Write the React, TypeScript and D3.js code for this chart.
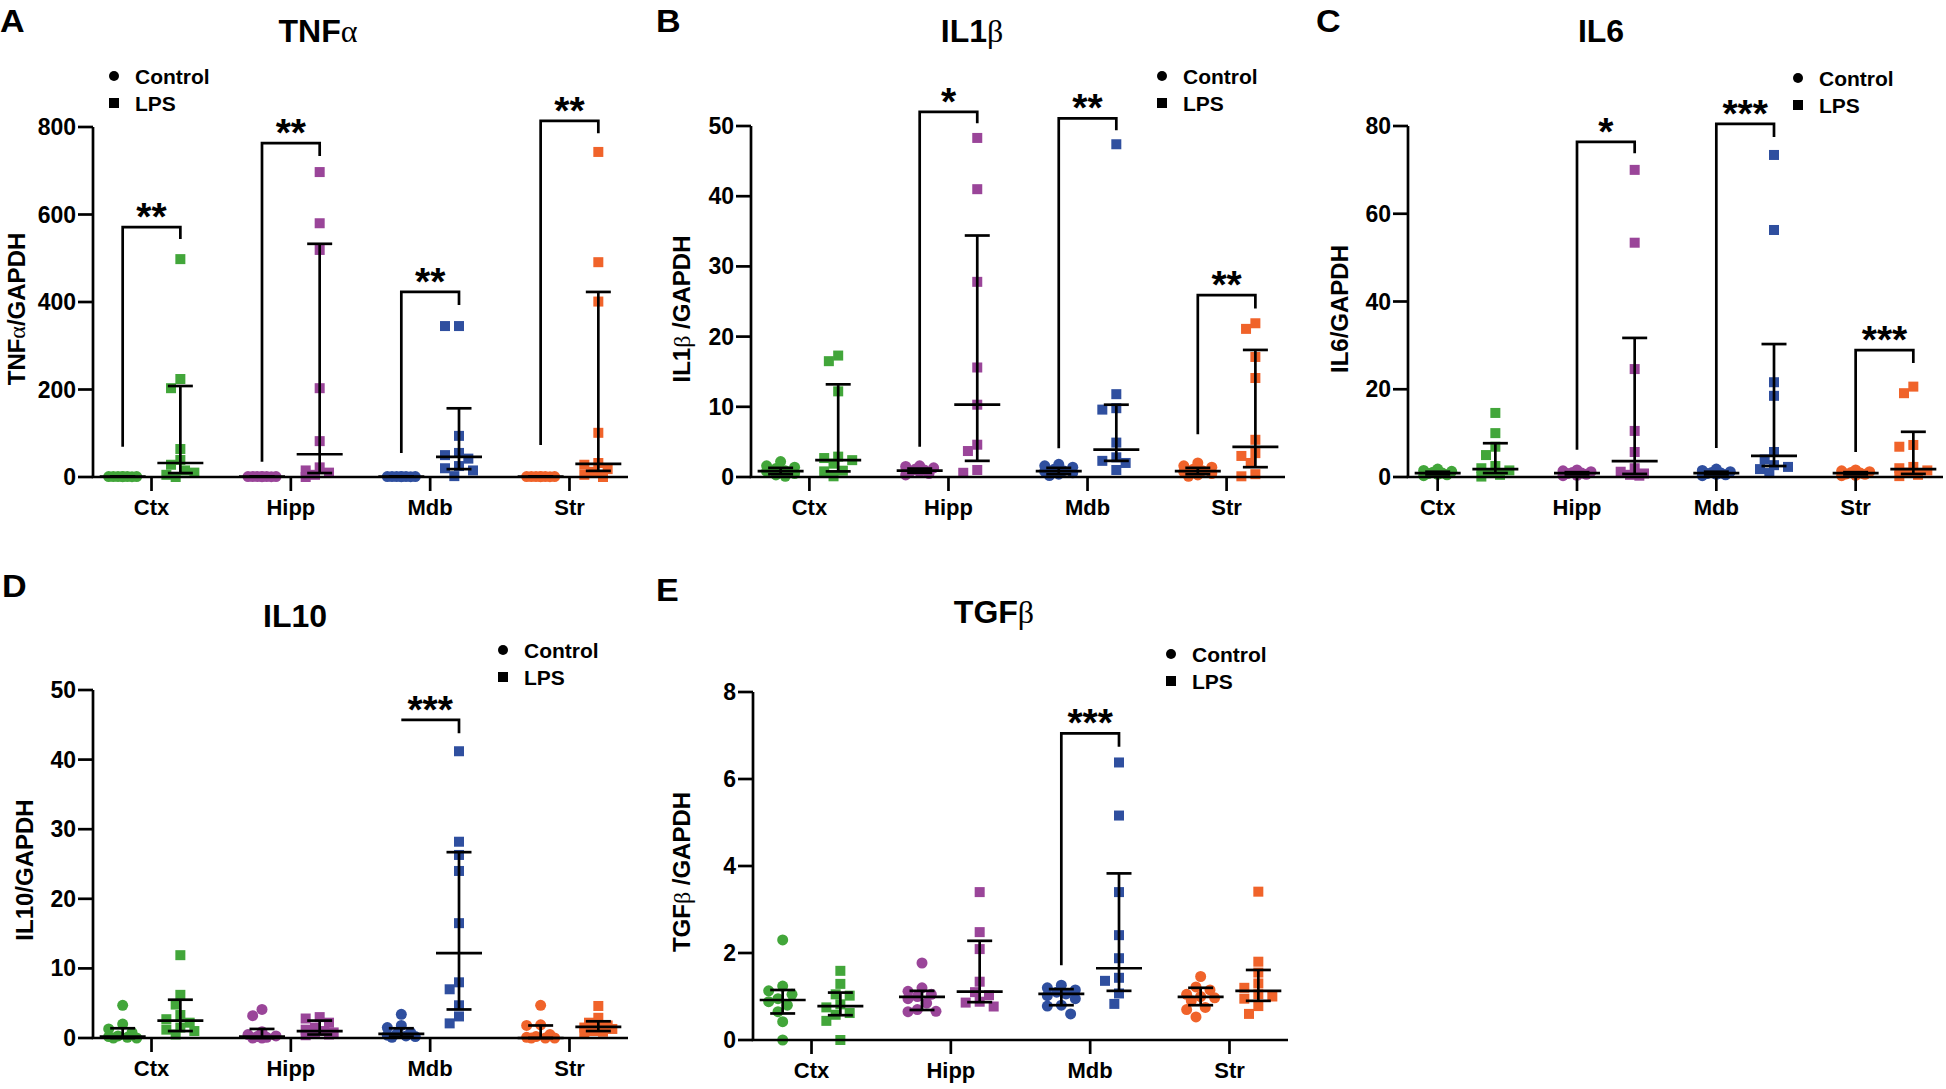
import React from 'react';
import * as d3 from 'd3';

const SANS = '"Liberation Sans", Arial, Helvetica, sans-serif';
const SERIF = '"Liberation Serif", "Times New Roman", serif';

const categories = ['Ctx', 'Hipp', 'Mdb', 'Str'];
const groups = ['Control', 'LPS'];
const regionColors = ['#42a63a', '#9a4599', '#2f4f9f', '#f0632a'];

// TNFα / GAPDH  (stats = [median, lower, upper])
const tnfControl = [
  [1.2, 0.9, 1.0, 0.8, 1.1, 0.7, 1.0, 0.9],
  [1.1, 0.9, 1.0, 0.8, 1.2, 0.7, 1.0, 0.9],
  [1.0, 0.9, 1.1, 0.8, 1.2, 0.7, 1.0, 0.9],
  [1.1, 0.8, 1.0, 0.9, 1.2, 0.7, 1.0, 0.9],
];
const tnfControlStats = [[1, 0.8, 1.1], [1, 0.8, 1.1], [1, 0.8, 1.1], [1, 0.8, 1.1]];
const tnfLps = [
  [498, 224, 203, 64, 39, 28, 15, 10, 5, 0],
  [697, 580, 519, 203, 82, 22, 15, 10, 5, 0],
  [345, 345, 94, 55, 50, 42, 25, 20, 15, 2],
  [743, 491, 401, 101, 32, 28, 18, 12, 5, 0],
];
const tnfLpsStats = [[32, 9, 208], [52, 9, 533], [46, 18, 157], [30, 14, 423]];
const tnfBrackets = [
  { cat: 'Ctx', label: '**', top: 571, left: 69, right: 544 },
  { cat: 'Hipp', label: '**', top: 763, left: 35, right: 734 },
  { cat: 'Mdb', label: '**', top: 423, left: 55, right: 393 },
  { cat: 'Str', label: '**', top: 814, left: 73, right: 786 },
];

// IL1β / GAPDH
const il1Control = [
  [2.2, 1.6, 1.4, 1.2, 0.9, 0.8, 0.5, 0.3, 0.1],
  [1.6, 1.5, 1.3, 1.1, 1.0, 0.8, 0.7, 0.5, 0.3],
  [1.8, 1.6, 1.4, 1.1, 0.9, 0.8, 0.6, 0.4, 0.2],
  [2.0, 1.6, 1.4, 1.1, 0.9, 0.7, 0.5, 0.3, 0.1],
];
const il1ControlStats = [[0.85, 0.4, 1.3], [0.9, 0.6, 1.2], [0.85, 0.4, 1.3], [0.85, 0.4, 1.3]];
const il1Lps = [
  [17.3, 16.5, 12.2, 2.9, 2.7, 2.4, 1.9, 0.9, 0.8, 0.1],
  [48.3, 41.0, 27.8, 15.6, 10.3, 4.6, 3.7, 1.0, 0.6],
  [47.4, 11.8, 9.8, 9.6, 4.9, 2.8, 2.3, 2.0, 1.0],
  [21.9, 21.1, 17.1, 14.1, 5.3, 3.4, 3.0, 2.0, 0.4, 0.1],
];
const il1LpsStats = [[2.4, 0.8, 13.2], [10.3, 2.3, 34.4], [3.9, 2.3, 10.3], [4.3, 1.4, 18.1]];
const il1Brackets = [
  { cat: 'Hipp', label: '*', top: 52.0, left: 4.3, right: 50.4 },
  { cat: 'Mdb', label: '**', top: 51.1, left: 4.1, right: 49.4 },
  { cat: 'Str', label: '**', top: 25.9, left: 6.1, right: 24.0 },
];

// IL6 / GAPDH
const il6Control = [
  [1.8, 1.5, 1.3, 1.1, 0.9, 0.8, 0.6, 0.5, 0.3],
  [1.6, 1.4, 1.2, 1.0, 0.9, 0.8, 0.6, 0.4, 0.3],
  [1.8, 1.5, 1.2, 1.0, 0.9, 0.8, 0.6, 0.5, 0.3],
  [1.6, 1.4, 1.2, 1.0, 0.9, 0.7, 0.6, 0.4, 0.3],
];
const il6ControlStats = [[0.9, 0.6, 1.2], [0.9, 0.6, 1.1], [0.9, 0.6, 1.2], [0.9, 0.6, 1.1]];
const il6Lps = [
  [14.6, 10.0, 6.9, 5.0, 2.5, 2.0, 1.5, 0.9, 0.5, 0.1],
  [70.0, 53.4, 24.6, 10.5, 5.7, 2.0, 1.2, 0.8, 0.5, 0.3],
  [73.4, 56.3, 21.6, 18.5, 5.7, 4.0, 2.7, 2.3, 1.8, 0.9],
  [20.6, 19.1, 7.3, 6.9, 2.3, 2.0, 1.5, 1.0, 0.5, 0.2],
];
const il6LpsStats = [[1.8, 0.9, 7.7], [3.6, 0.7, 31.7], [4.8, 2.5, 30.3], [1.8, 0.7, 10.3]];
const il6Brackets = [
  { cat: 'Hipp', label: '*', top: 76.4, left: 6.2, right: 73.8 },
  { cat: 'Mdb', label: '***', top: 80.5, left: 6.6, right: 77.5 },
  { cat: 'Str', label: '***', top: 28.9, left: 5.7, right: 26.0 },
];

// IL10 / GAPDH
const il10Control = [
  [4.7, 2.0, 1.3, 0.8, 0.3, 0.2, 0.1, 0, 0],
  [4.1, 3.2, 0.9, 0.5, 0.3, 0.2, 0.1, 0, 0],
  [3.4, 1.8, 1.5, 0.8, 0.6, 0.4, 0.3, 0.2, 0.1],
  [4.7, 1.9, 1.8, 0.5, 0.2, 0.1, 0, 0, 0],
];
const il10ControlStats = [[0.2, 0, 1.4], [0.2, 0, 1.3], [0.6, 0.2, 1.4], [0, 0, 1.8]];
const il10Lps = [
  [11.9, 6.2, 4.8, 3.3, 2.7, 2.2, 1.5, 1.2, 1.0, 0.5],
  [3.0, 2.8, 2.2, 1.5, 1.2, 1.0, 0.8, 0.6, 0.5, 0.4],
  [41.2, 28.2, 26.3, 24.0, 16.5, 8.0, 7.0, 4.7, 3.1, 2.1],
  [4.6, 2.9, 2.2, 1.8, 1.6, 1.5, 1.3, 1.0, 0.9, 0.7],
];
const il10LpsStats = [[2.5, 1.0, 5.5], [1.0, 0.5, 2.5], [12.2, 4.1, 26.7], [1.6, 1.0, 2.4]];
const il10Brackets = [
  { cat: 'Mdb', label: '***', top: 45.7, left: null, right: 43.8 },
];

// TGFβ / GAPDH
const tgfControl = [
  [2.30, 1.24, 1.13, 1.05, 0.95, 0.88, 0.80, 0.65, 0.42, 0.0],
  [1.77, 1.20, 1.12, 1.05, 1.0, 0.95, 0.85, 0.70, 0.66, 0.65],
  [1.26, 1.20, 1.15, 1.10, 1.06, 1.02, 0.95, 0.80, 0.78, 0.60],
  [1.46, 1.22, 1.15, 1.05, 1.0, 0.97, 0.90, 0.75, 0.70, 0.53],
];
const tgfControlStats = [[0.92, 0.61, 1.15], [0.99, 0.69, 1.13], [1.06, 0.80, 1.17], [0.99, 0.80, 1.20]];
const tgfLps = [
  [1.59, 1.29, 1.05, 1.02, 0.82, 0.75, 0.62, 0.58, 0.44, 0.0],
  [3.40, 2.48, 2.09, 1.34, 1.10, 1.03, 0.88, 0.86, 0.77],
  [6.38, 5.16, 3.40, 2.41, 1.88, 1.43, 1.36, 1.07, 0.83],
  [3.41, 1.80, 1.55, 1.30, 1.20, 1.05, 1.00, 0.95, 0.78, 0.60],
];
const tgfLpsStats = [[0.78, 0.57, 1.09], [1.11, 0.87, 2.28], [1.65, 1.13, 3.83], [1.13, 0.90, 1.61]];
const tgfBrackets = [
  { cat: 'Mdb', label: '***', top: 7.05, left: 1.72, right: 6.74 },
];

type Piece = [string, boolean]; // text, greek?

const panels = [
  {
    letter: 'A', letterX: 0, letterY: 32,
    title: [['TNF', false], ['α', true]] as Piece[], titleX: 318, titleY: 42,
    yLabel: [['TNF', false], ['α', true], ['/GAPDH', false]] as Piece[], yLabelX: 25, yLabelY: 309,
    axisX: 93, axisTop: 127, axisBottom: 477, axisLen: 535, max: 800,
    legendX: 114, legendY: 76, tickAtControl: false,
    control: tnfControl, controlStats: tnfControlStats, lps: tnfLps, lpsStats: tnfLpsStats, brackets: tnfBrackets,
  },
  {
    letter: 'B', letterX: 656, letterY: 32,
    title: [['IL1', false], ['β', true]] as Piece[], titleX: 972, titleY: 42,
    yLabel: [['IL1', false], ['β', true], [' /GAPDH', false]] as Piece[], yLabelX: 690, yLabelY: 309,
    axisX: 751, axisTop: 126, axisBottom: 477, axisLen: 534, max: 50,
    legendX: 1162, legendY: 76, tickAtControl: false,
    control: il1Control, controlStats: il1ControlStats, lps: il1Lps, lpsStats: il1LpsStats, brackets: il1Brackets,
  },
  {
    letter: 'C', letterX: 1316, letterY: 32,
    title: [['IL6', false]] as Piece[], titleX: 1601, titleY: 42,
    yLabel: [['IL6/GAPDH', false]] as Piece[], yLabelX: 1348, yLabelY: 309,
    axisX: 1408, axisTop: 126, axisBottom: 477, axisLen: 535, max: 80,
    legendX: 1798, legendY: 78, tickAtControl: true,
    control: il6Control, controlStats: il6ControlStats, lps: il6Lps, lpsStats: il6LpsStats, brackets: il6Brackets,
  },
  {
    letter: 'D', letterX: 2, letterY: 597,
    title: [['IL10', false]] as Piece[], titleX: 295, titleY: 627,
    yLabel: [['IL10/GAPDH', false]] as Piece[], yLabelX: 33, yLabelY: 870,
    axisX: 93, axisTop: 690, axisBottom: 1038, axisLen: 535, max: 50,
    legendX: 503, legendY: 650, tickAtControl: false,
    control: il10Control, controlStats: il10ControlStats, lps: il10Lps, lpsStats: il10LpsStats, brackets: il10Brackets,
  },
  {
    letter: 'E', letterX: 656, letterY: 601,
    title: [['TGF', false], ['β', true]] as Piece[], titleX: 994, titleY: 623,
    yLabel: [['TGF', false], ['β', true], [' /GAPDH', false]] as Piece[], yLabelX: 690, yLabelY: 872,
    axisX: 753, axisTop: 692, axisBottom: 1040, axisLen: 535, max: 8,
    legendX: 1171, legendY: 654, tickAtControl: false,
    control: tgfControl, controlStats: tgfControlStats, lps: tgfLps, lpsStats: tgfLpsStats, brackets: tgfBrackets,
  },
];

// spread overlapping points sideways, GraphPad style
function swarm(values: number[], y: (v: number) => number, step: number, size: number) {
  const order = d3.range(values.length).sort((a, b) => values[b] - values[a]);
  const ks = [0, -1, 1, -2, 2, -3, 3];
  const placed: { dx: number; py: number }[] = [];
  const out: number[] = new Array(values.length).fill(0);
  for (const i of order) {
    const py = y(values[i]);
    let best = 0;
    let bestD = -1;
    for (const k of ks) {
      const dx = (k * step) / 3;
      const md = placed.length ? d3.min(placed, p => Math.hypot(p.dx - dx, p.py - py))! : Infinity;
      if (md >= size) { best = dx; break; }
      if (md > bestD + 0.01) { bestD = md; best = dx; }
    }
    placed.push({ dx: best, py });
    out[i] = best;
  }
  return out;
}

const Rich = ({ pieces }: { pieces: Piece[] }) => (
  <>
    {pieces.map(([t, g], i) => (
      <tspan key={i} fontFamily={g ? SERIF : SANS} fontWeight={g ? 'normal' : 'bold'}>{t}</tspan>
    ))}
  </>
);

const LW = 2.7;

const Panel = ({ p }: { p: typeof panels[number] }) => {
  const y = d3.scaleLinear().domain([0, p.max]).range([p.axisBottom, p.axisTop]);
  const x = d3.scalePoint<string>().domain(categories).range([p.axisX, p.axisX + p.axisLen]).padding(0.42);
  const off = x.step() * 0.207;
  const colX = (cat: string, g: number) => x(cat)! + (g === 0 ? -off : off);
  const ticks = y.ticks(5);

  return (
    <g>
      <text transform={`translate(${p.letterX},${p.letterY}) scale(1.1,1)`} fontFamily={SANS} fontWeight="bold" fontSize={31}>{p.letter}</text>
      <text x={p.titleX} y={p.titleY} textAnchor="middle" fontSize={32}><Rich pieces={p.title} /></text>
      <text transform={`translate(${p.yLabelX},${p.yLabelY}) rotate(-90)`} textAnchor="middle" fontSize={24}>
        <Rich pieces={p.yLabel} />
      </text>

      {/* legend */}
      {groups.map((g, gi) => (
        <g key={g}>
          {gi === 0
            ? <circle cx={p.legendX} cy={p.legendY} r={5} fill="#000" />
            : <rect x={p.legendX - 5} y={p.legendY + 27 - 5} width={10} height={10} fill="#000" />}
          <text x={p.legendX + 21} y={p.legendY + gi * 27 + 7.5} fontFamily={SANS} fontWeight="bold" fontSize={21}>{g}</text>
        </g>
      ))}

      {/* points */}
      {categories.map((cat, ci) =>
        [p.control[ci], p.lps[ci]].map((vals, gi) => {
          const cx = colX(cat, gi);
          const dxs = swarm(vals, y, 14, gi === 0 ? 11 : 10.5);
          return vals.map((v, i) =>
            gi === 0
              ? <circle key={`${cat}-${gi}-${i}`} cx={cx + dxs[i]} cy={y(v)} r={5.5} fill={regionColors[ci]} />
              : <rect key={`${cat}-${gi}-${i}`} x={cx + dxs[i] - 5} y={y(v) - 5} width={10} height={10} fill={regionColors[ci]} />
          );
        })
      )}

      {/* median + interquartile range */}
      {categories.map((cat, ci) =>
        [p.controlStats[ci], p.lpsStats[ci]].map(([med, lo, hi], gi) => {
          const cx = colX(cat, gi);
          return (
            <g key={`${cat}-s-${gi}`} stroke="#000" strokeWidth={LW}>
              <line x1={cx} x2={cx} y1={y(lo)} y2={y(hi)} />
              <line x1={cx - 12.5} x2={cx + 12.5} y1={y(lo)} y2={y(lo)} />
              <line x1={cx - 12.5} x2={cx + 12.5} y1={y(hi)} y2={y(hi)} />
              <line x1={cx - 23} x2={cx + 23} y1={y(med)} y2={y(med)} />
            </g>
          );
        })
      )}

      {/* significance brackets */}
      {p.brackets.map(b => {
        const lx = colX(b.cat, 0);
        const rx = colX(b.cat, 1);
        const d = b.left == null
          ? `M${lx},${y(b.top)}H${rx}V${y(b.right)}`
          : `M${lx},${y(b.left)}V${y(b.top)}H${rx}V${y(b.right)}`;
        return (
          <g key={b.cat}>
            <path d={d} fill="none" stroke="#000" strokeWidth={LW} />
            <text x={(lx + rx) / 2} y={y(b.top) + 3} textAnchor="middle" fontFamily={SANS} fontWeight="bold" fontSize={39}>{b.label}</text>
          </g>
        );
      })}

      {/* axes */}
      <g stroke="#000" strokeWidth={LW}>
        <line x1={p.axisX} x2={p.axisX} y1={p.axisTop} y2={p.axisBottom} />
        <line x1={p.axisX - LW / 2} x2={p.axisX + p.axisLen} y1={p.axisBottom} y2={p.axisBottom} />
        {ticks.map(t => <line key={t} x1={p.axisX - 15} x2={p.axisX} y1={y(t)} y2={y(t)} />)}
        {categories.map(cat => {
          const tx = p.tickAtControl ? colX(cat, 0) : x(cat)!;
          return <line key={cat} x1={tx} x2={tx} y1={p.axisBottom} y2={p.axisBottom + 14} />;
        })}
      </g>
      {ticks.map(t => (
        <text key={t} x={p.axisX - 17} y={y(t) + 8} textAnchor="end" fontFamily={SANS} fontWeight="bold" fontSize={23}>{t}</text>
      ))}
      {categories.map(cat => {
        const tx = p.tickAtControl ? colX(cat, 0) : x(cat)!;
        return (
          <text key={cat} x={tx} y={p.axisBottom + 38} textAnchor="middle" fontFamily={SANS} fontWeight="bold" fontSize={22}>{cat}</text>
        );
      })}
    </g>
  );
};

export default function App() {
  return (
    <div>
      <style>{'body{margin:0;background:#fff}'}</style>
      <svg width={1946} height={1089} style={{ display: 'block', background: '#fff' }}>
        {panels.map(p => <Panel key={p.letter} p={p} />)}
      </svg>
    </div>
  );
}
